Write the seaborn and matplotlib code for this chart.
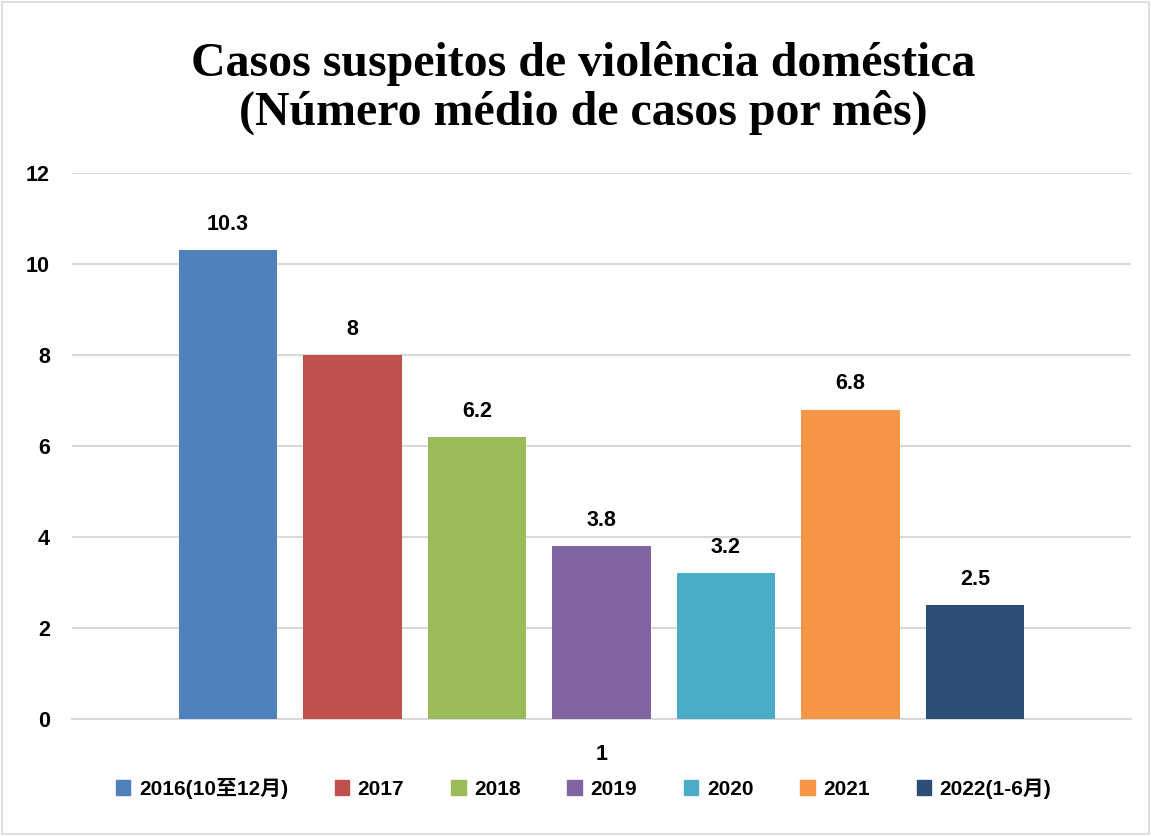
import matplotlib
matplotlib.use('Agg')
import matplotlib.pyplot as plt
import matplotlib.patches as mpatches
import pandas as pd
import seaborn as sns

# data
series = ['2016(10至12月)', '2017', '2018', '2019', '2020', '2021', '2022(1-6月)']
values = [10.3, 8, 6.2, 3.8, 3.2, 6.8, 2.5]
value_labels = ['10.3', '8', '6.2', '3.8', '3.2', '6.8', '2.5']
colors = ['#4F81BD', '#C0504D', '#9BBB59', '#8064A2', '#4BACC6', '#F79646', '#2C4D75']
category = '1'
yticks = [0, 2, 4, 6, 8, 10, 12]

df = pd.DataFrame({'cat': [category] * len(series), 'series': series, 'value': values})

sns.set_style('white')
plt.rcParams['font.family'] = ['Liberation Sans', 'Noto Sans CJK SC', 'DejaVu Sans']
plt.rcParams['text.color'] = 'black'
plt.rcParams['font.weight'] = 'bold'

fig = plt.figure(figsize=(11.51, 8.36), dpi=100)
ax = fig.add_axes([0.0626, 0.14, 0.92, 0.653])

sns.barplot(data=df, x='cat', y='value', hue='series', hue_order=series,
            palette=colors, width=0.823, gap=0.21, saturation=1,
            legend=False, ax=ax, zorder=3, linewidth=0, edgecolor='none')

for cont, lab in zip(ax.containers, value_labels):
    ax.bar_label(cont, labels=[lab], padding=11, fontsize=15.5, fontweight='bold',
                 color='black')

ax.set_ylim(0, 12)
ax.set_xlim(-0.5, 0.5)
ax.set_yticks(yticks)
ax.set_yticklabels([str(t) for t in yticks], fontsize=15.5, fontweight='bold')
ax.tick_params(axis='both', length=0, colors='black')
ax.tick_params(axis='y', pad=16)
ax.tick_params(axis='x', pad=18, labelsize=15.5)
for t in ax.get_xticklabels():
    t.set_fontweight('bold')
ax.grid(axis='y', color='#D9D9D9', linewidth=1.5, zorder=0)
ax.set_xlabel('')
ax.set_ylabel('')
for s in ['top', 'right', 'left']:
    ax.spines[s].set_visible(False)
ax.spines['bottom'].set_color('#D9D9D9')
ax.spines['bottom'].set_linewidth(1.5)

fig.text(0.507, 0.951, 'Casos suspeitos de violência doméstica\n(Número médio de casos por mês)',
         ha='center', va='top', fontsize=34.5, fontweight='bold', color='black',
         family='Liberation Serif', linespacing=1.1)

handles = [mpatches.Patch(color=c, label=s) for c, s in zip(colors, series)]
fig.legend(handles=handles, loc='center', bbox_to_anchor=(0.507, 0.057), ncol=7,
           frameon=False, prop={'weight': 'bold', 'size': 15},
           handlelength=0.7, handleheight=0.7, handletextpad=0.4, columnspacing=2.25)

fig.add_artist(mpatches.Rectangle((0.002, 0.002), 0.996, 0.996, transform=fig.transFigure,
                                  fill=False, edgecolor='#D9D9D9', linewidth=1.2))

fig.savefig('out.png', dpi=100)
